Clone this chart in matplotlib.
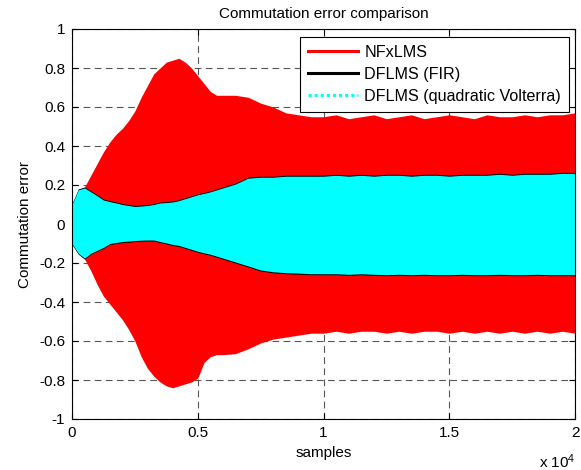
import matplotlib
matplotlib.use('Agg')
import matplotlib.pyplot as plt
from matplotlib.lines import Line2D

# ---- data (envelopes) ----
samples = [0, 250, 500, 750, 1000, 1250, 1500, 1750, 2000, 2250, 2500, 2750,
           3000, 3250, 3500, 3750, 4000, 4250, 4500, 4750, 5000, 5250, 5500,
           5750, 6000, 6500, 7000, 7500, 8000, 8500, 9000, 9500, 10000, 10500,
           11000, 11500, 12000, 12500, 13000, 13500, 14000, 14500, 15000,
           15500, 16000, 16500, 17000, 17500, 18000, 18500, 19000, 19500, 20000]

nfxlms_hi = [0.10, 0.17, 0.19, 0.25, 0.31, 0.37, 0.42, 0.46, 0.49, 0.53, 0.58, 0.65,
             0.71, 0.77, 0.80, 0.83, 0.84, 0.85, 0.83, 0.80, 0.76, 0.72, 0.68,
             0.66, 0.66, 0.66, 0.65, 0.62, 0.60, 0.57, 0.56, 0.55, 0.55, 0.56,
             0.54, 0.55, 0.56, 0.54, 0.55, 0.56, 0.54, 0.55, 0.56,
             0.55, 0.54, 0.56, 0.55, 0.55, 0.56, 0.55, 0.56, 0.56, 0.57]
nfxlms_lo = [-0.10, -0.15, -0.18, -0.24, -0.31, -0.37, -0.41, -0.45, -0.49, -0.54, -0.60, -0.68,
             -0.74, -0.78, -0.81, -0.83, -0.84, -0.83, -0.82, -0.81, -0.79, -0.71, -0.68,
             -0.67, -0.67, -0.665, -0.64, -0.61, -0.59, -0.58, -0.57, -0.56, -0.56, -0.55,
             -0.56, -0.55, -0.55, -0.56, -0.55, -0.56, -0.55, -0.55, -0.56,
             -0.55, -0.56, -0.55, -0.56, -0.55, -0.56, -0.55, -0.56, -0.55, -0.56]

fir_hi = [0.105, 0.18, 0.19, 0.17, 0.15, 0.128, 0.12, 0.113, 0.105, 0.10, 0.095, 0.097,
          0.10, 0.105, 0.113, 0.115, 0.118, 0.125, 0.135, 0.145, 0.155, 0.162, 0.17,
          0.18, 0.19, 0.21, 0.24, 0.245, 0.245, 0.25, 0.25, 0.25, 0.25, 0.255,
          0.25, 0.255, 0.25, 0.255, 0.255, 0.25, 0.255, 0.255, 0.25,
          0.255, 0.255, 0.255, 0.26, 0.255, 0.26, 0.26, 0.26, 0.265, 0.265]
fir_lo = [-0.105, -0.155, -0.18, -0.155, -0.14, -0.125, -0.105, -0.10, -0.095, -0.093, -0.09, -0.088,
          -0.087, -0.087, -0.095, -0.102, -0.11, -0.115, -0.125, -0.135, -0.145, -0.153, -0.16,
          -0.17, -0.18, -0.2, -0.22, -0.241, -0.25, -0.255, -0.257, -0.26, -0.26, -0.26,
          -0.263, -0.26, -0.263, -0.265, -0.263, -0.265, -0.263, -0.265, -0.265,
          -0.263, -0.265, -0.265, -0.263, -0.265, -0.265, -0.263, -0.265, -0.265, -0.265]

volt_hi = [0.10, 0.175, 0.185, 0.165, 0.145, 0.123, 0.115, 0.108, 0.10, 0.095, 0.09, 0.092,
           0.095, 0.10, 0.108, 0.11, 0.113, 0.12, 0.13, 0.14, 0.15, 0.157, 0.165,
           0.175, 0.185, 0.205, 0.235, 0.24, 0.24, 0.245, 0.245, 0.245, 0.245, 0.25,
           0.245, 0.25, 0.245, 0.25, 0.25, 0.245, 0.25, 0.25, 0.245,
           0.25, 0.25, 0.25, 0.255, 0.25, 0.255, 0.255, 0.255, 0.26, 0.26]
volt_lo = [-0.10, -0.15, -0.175, -0.15, -0.135, -0.12, -0.10, -0.095, -0.09, -0.088, -0.085, -0.083,
           -0.082, -0.082, -0.09, -0.097, -0.105, -0.11, -0.12, -0.13, -0.14, -0.148, -0.155,
           -0.165, -0.175, -0.195, -0.215, -0.236, -0.245, -0.25, -0.252, -0.255, -0.255, -0.255,
           -0.258, -0.255, -0.258, -0.26, -0.258, -0.26, -0.258, -0.26, -0.26,
           -0.258, -0.26, -0.26, -0.258, -0.26, -0.26, -0.258, -0.26, -0.26, -0.26]

series_labels = ['NFxLMS', 'DFLMS (FIR)', 'DFLMS (quadratic Volterra)']
x_ticks = [0, 5000, 10000, 15000, 20000]
x_ticklabels = ['0', '0.5', '1', '1.5', '2']
y_ticks = [-1, -0.8, -0.6, -0.4, -0.2, 0, 0.2, 0.4, 0.6, 0.8, 1]
y_ticklabels = ['-1', '-0.8', '-0.6', '-0.4', '-0.2', '0', '0.2', '0.4', '0.6', '0.8', '1']

# ---- plotting ----
plt.rcParams['font.family'] = ['Liberation Sans', 'DejaVu Sans']
plt.rcParams['axes.unicode_minus'] = False
plt.rcParams['font.size'] = 11
plt.rcParams['mathtext.fontset'] = 'custom'
plt.rcParams['mathtext.rm'] = 'Liberation Sans'
plt.rcParams['mathtext.it'] = 'Liberation Sans'
plt.rcParams['mathtext.default'] = 'rm'

fig = plt.figure(figsize=(5.81, 4.70), dpi=100)
ax = fig.add_axes([72 / 581, 51 / 470, 503 / 581, 390 / 470])

ax.fill_between(samples, nfxlms_lo, nfxlms_hi, color='#ff0000', lw=0, zorder=2)
ax.fill_between(samples, fir_lo, fir_hi, color='#000000', lw=0, zorder=3)
ax.fill_between(samples, volt_lo, volt_hi, color='#00ffff', lw=0, zorder=4)

ax.set_xlim(0, 20000)
ax.set_ylim(-1, 1)
ax.set_xticks(x_ticks)
ax.set_xticklabels(x_ticklabels)
ax.set_yticks(y_ticks)
ax.set_yticklabels(y_ticklabels)
ax.grid(True, linestyle=(0, (6, 4)), color='#555555', lw=0.8)
for gl in ax.get_xgridlines() + ax.get_ygridlines():
    gl.set_zorder(1)
ax.tick_params(direction='in', top=True, right=True, length=4, width=0.8, labelsize=11, pad=5)
for sp in ax.spines.values():
    sp.set_linewidth(0.8)
    sp.set_zorder(6)

ax.set_title('Commutation error comparison', fontsize=11, pad=8)
ax.set_xlabel('samples', fontsize=11, labelpad=4)
ax.set_ylabel('Commutation error', fontsize=11, labelpad=5)
fig.text(539 / 581, 1 - 468 / 470, r'x 10$^{4}$', fontsize=11, ha='left', va='baseline')

handles = [Line2D([], [], color='#ff0000', lw=2.2),
           Line2D([], [], color='#000000', lw=2.2),
           Line2D([], [], color='#00ffff', lw=2.2, linestyle=(0, (1, 1)))]
leg = ax.legend(handles, series_labels, loc='upper right',
                bbox_to_anchor=((569 - 72) / 503, (419 - 37) / 390),
                borderaxespad=0, fancybox=False, framealpha=1, edgecolor='black',
                handlelength=3.1, handletextpad=0.4, labelspacing=0.42, fontsize=11.6,
                borderpad=0.5)
leg.get_frame().set_linewidth(0.8)
leg.set_zorder(10)

fig.savefig('out.png', dpi=100)
